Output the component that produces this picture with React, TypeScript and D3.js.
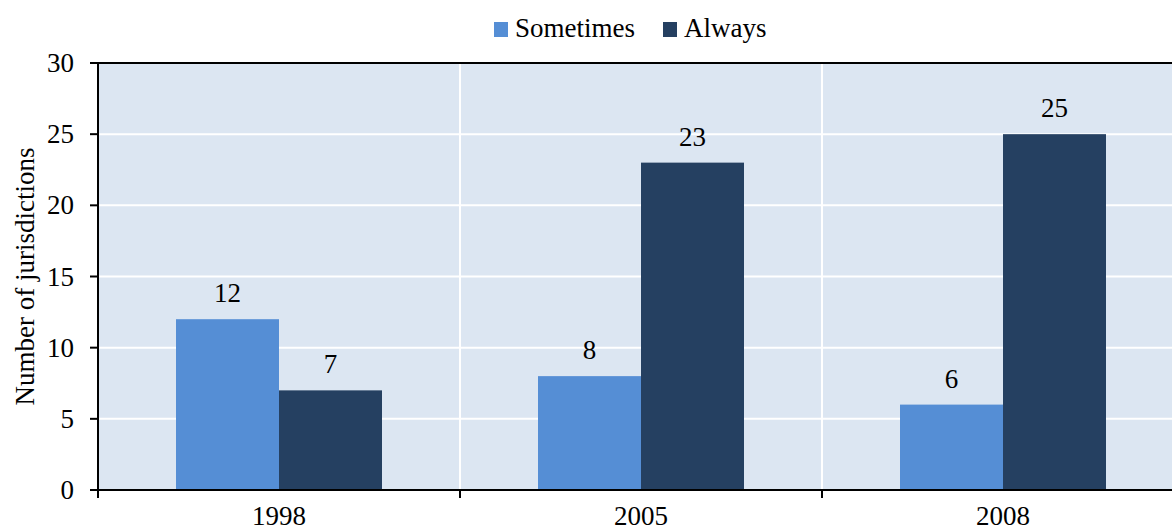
import React from 'react';
import * as d3 from 'd3';

const years = ['1998', '2005', '2008'];
const seriesNames = ['Sometimes', 'Always'];
const sometimes = [12, 8, 6];
const always = [7, 23, 25];
const yTicks = [0, 5, 10, 15, 20, 25, 30];

const colors: { [key: string]: string } = {
  Sometimes: '#558ED5',
  Always: '#254061',
};

const width = 1172;
const height = 532;
const left = 98;
const top = 63;
const bottom = 490;
const catWidth = 362;
const fs = 27;

const App: React.FC = () => {
  const x = d3.scaleBand<string>()
    .domain(years)
    .range([left, left + catWidth * years.length])
    .paddingInner(0)
    .paddingOuter(0);
  const y = d3.scaleLinear().domain([0, 30]).range([bottom, top]);
  const barW = 103;
  const values: { [key: string]: number[] } = { Sometimes: sometimes, Always: always };
  const font = '"Liberation Serif", "Times New Roman", serif';

  return (
    <div style={{ position: 'absolute', left: 0, top: 0 }}>
      <svg width={width} height={height} style={{ display: 'block', fontFamily: font }}>
        <rect x={left} y={top} width={width - left} height={bottom - top} fill="#DCE6F2" />
        {yTicks.filter(t => t > 0 && t < 30).map(t => (
          <line key={t} x1={left} x2={width} y1={y(t)} y2={y(t)} stroke="#fff" strokeWidth={2} />
        ))}
        {years.slice(1).map(yr => (
          <line key={yr} x1={x(yr)!} x2={x(yr)!} y1={top} y2={bottom} stroke="#fff" strokeWidth={2} />
        ))}
        {years.map((yr, i) => {
          const cx = x(yr)! + x.bandwidth() / 2;
          return seriesNames.map((s, j) => {
            const v = values[s][i];
            const bx = cx - barW + j * barW;
            return (
              <g key={yr + s}>
                <rect x={bx} y={y(v)} width={barW} height={bottom - y(v)} fill={colors[s]} />
                <text x={bx + barW / 2} y={y(v) - 17} textAnchor="middle" fontSize={fs} fill="#000">{v}</text>
              </g>
            );
          });
        })}
        <line x1={left} x2={width} y1={top} y2={top} stroke="#000" strokeWidth={2} />
        <line x1={left} x2={left} y1={top - 1} y2={bottom + 8} stroke="#000" strokeWidth={2} />
        <line x1={left - 8} x2={width} y1={bottom} y2={bottom} stroke="#000" strokeWidth={2} />
        {yTicks.map(t => (
          <g key={t}>
            <line x1={left - 8} x2={left} y1={y(t)} y2={y(t)} stroke="#000" strokeWidth={2} />
            <text x={left - 24} y={y(t) + 9} textAnchor="end" fontSize={fs} fill="#000">{t}</text>
          </g>
        ))}
        {years.map(yr => (
          <g key={yr}>
            <line x1={x(yr)!} x2={x(yr)!} y1={bottom} y2={bottom + 8} stroke="#000" strokeWidth={2} />
            <text x={x(yr)! + x.bandwidth() / 2} y={525} textAnchor="middle" fontSize={fs} fill="#000">{yr}</text>
          </g>
        ))}
        <text transform={`translate(34, ${(top + bottom) / 2}) rotate(-90)`} textAnchor="middle" fontSize={fs} fill="#000">
          Number of jurisdictions
        </text>
        <g>
          <rect x={494} y={22} width={14} height={15} fill={colors.Sometimes} />
          <text x={515} y={37} fontSize={fs} fill="#000">Sometimes</text>
          <rect x={663} y={22} width={14} height={15} fill={colors.Always} />
          <text x={684} y={37} fontSize={fs} fill="#000">Always</text>
        </g>
      </svg>
    </div>
  );
};

export default App;
